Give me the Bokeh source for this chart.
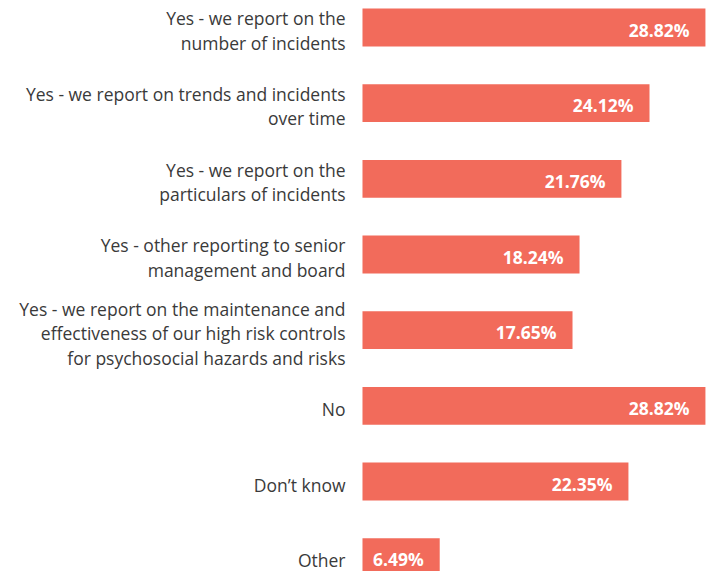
from bokeh.plotting import figure
from bokeh.models import Range1d, ColumnDataSource
from bokeh.embed import file_html
from bokeh.resources import INLINE
from bokeh.core.properties import value

categories = [
    "Yes - we report on the\nnumber of incidents",
    "Yes - we report on trends and incidents\nover time",
    "Yes - we report on the\nparticulars of incidents",
    "Yes - other reporting to senior\nmanagement and board",
    "Yes - we report on the maintenance and\neffectiveness of our high risk controls\nfor psychosocial hazards and risks",
    "No",
    "Don\u2019t know",
    "Other",
]
values = [28.82, 24.12, 21.76, 18.24, 17.65, 28.82, 22.35, 6.49]
value_labels = ["28.82%", "24.12%", "21.76%", "18.24%", "17.65%", "28.82%", "22.35%", "6.49%"]

ypos = [-i for i in range(len(categories))]
src = ColumnDataSource(dict(y=ypos, v=values, cat=categories, lab=value_labels,
                            zero=[0] * len(values)))

p = figure(width=711, height=571, output_backend="svg", toolbar_location=None,
           x_range=Range1d(-30.42, 29.33), y_range=Range1d(-7.189, 0.357),
           min_border=0)
p.axis.visible = False
p.grid.visible = False
p.outline_line_color = None
p.background_fill_color = "white"

p.hbar(y="y", left=0, right="v", height=0.5, source=src,
       fill_color="#F26B5B", line_color=None)

p.text(x="zero", y="y", text="cat", source=src, x_offset=-17, y_offset=3,
       text_align="right", text_baseline="middle",
       text_font=value("Open Sans"), text_font_size="17.5px",
       text_color="#3a3a3a", text_line_height=1.02)

p.text(x="v", y="y", text="lab", source=src, x_offset=-16, y_offset=2,
       text_align="right", text_baseline="middle",
       text_font=value("Open Sans"), text_font_size="17.5px", text_font_style="bold",
       text_color="white")

open("out.html", "w").write(file_html(p, INLINE))
